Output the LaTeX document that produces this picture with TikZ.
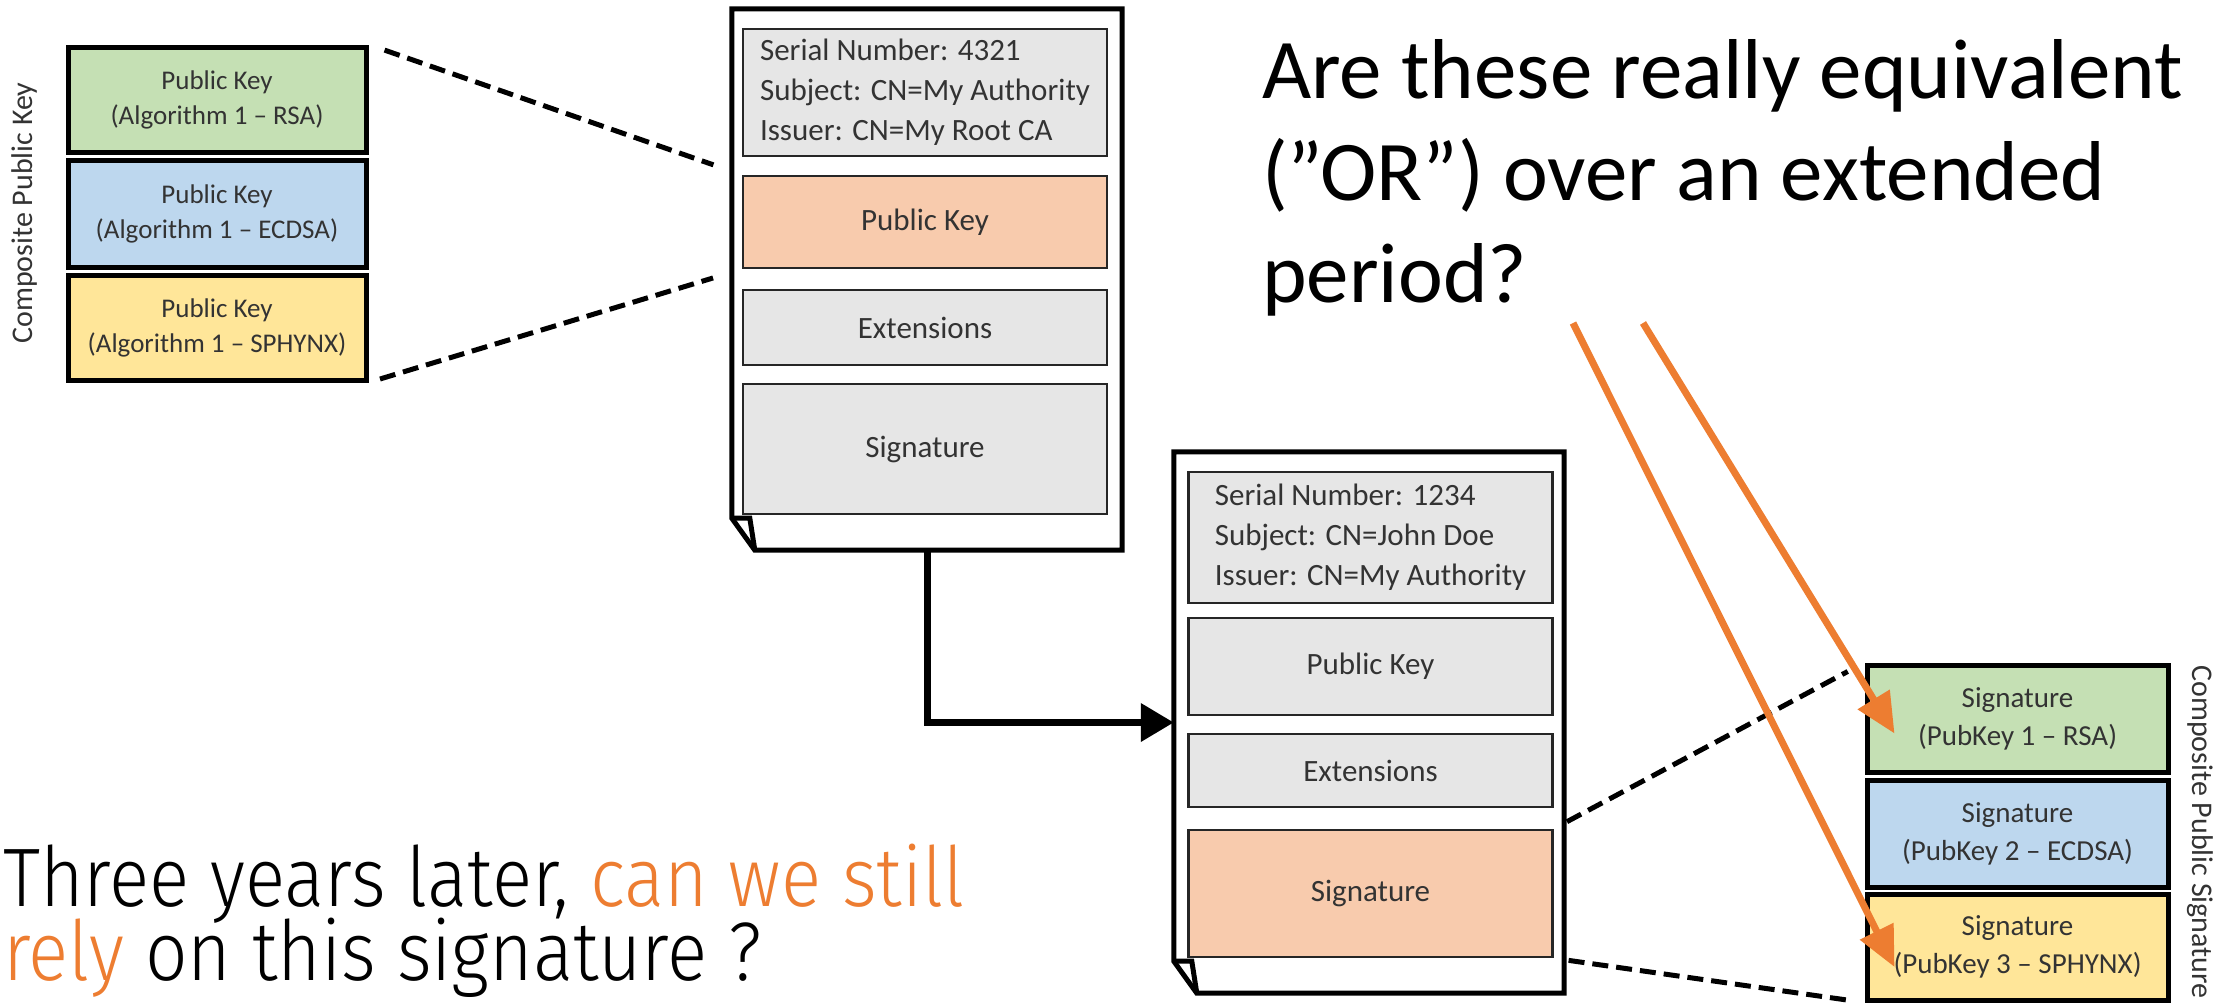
\documentclass[tikz,border=0pt]{standalone}
\usepackage{fontspec}
\setmainfont{Carlito}
\newfontfamily\thinfont{Fira Sans Light}[FakeStretch=0.9]
\usetikzlibrary{arrows.meta,calc}

\definecolor{keygreen}{HTML}{C5E0B4}
\definecolor{keyblue}{HTML}{BDD7EE}
\definecolor{keyyellow}{HTML}{FFE699}
\definecolor{peach}{HTML}{F8CBAD}
\definecolor{certgray}{HTML}{E6E6E6}
\definecolor{accent}{HTML}{ED7D31}

% let big lines sit closer than their height
\newcommand{\tightlines}{\lineskiplimit=-100pt\relax}

\tikzset{
    % parts of a composite key or signature
    part/.style = {draw, line width=5pt, minimum width=298pt, inner sep=0pt, text=black!80, align=center},
    % fields inside a certificate
    field/.style = {draw=black!85, line width=2.5pt, fill=certgray, minimum width=364pt, inner sep=0pt, text=black!80, font=\fontsize{31}{40}\selectfont},
    % invisible frame of a certificate sheet
    sheet/.style = {minimum width=390pt, minimum height=541pt, inner sep=0pt},
    sheetline/.style = {line width=5pt, line join=miter},
    % dashed links between a field and its parts
    link/.style = {line width=5pt, dash pattern=on 16pt off 8pt},
    % issuer to subject
    chain/.style = {line width=7pt, -{Triangle[length=33pt, width=37pt]}},
    % orange question arrows
    pointer/.style = {draw=accent, line width=7pt, -{Triangle[length=40pt, width=36pt]}},
    sidelabel/.style = {text=black!80, font=\fontsize{30}{34}\selectfont, inner sep=0pt}
}

% outline of a certificate sheet with a folded corner
\newcommand{\sheetoutline}[1]{%
    \draw[sheetline, fill=white] (#1.north west) -- (#1.north east) -- (#1.south east)
        -- ([xshift=23pt]#1.south west) -- ([yshift=32pt]#1.south west) -- cycle;
    \draw[sheetline] ([yshift=32pt]#1.south west) -- ([xshift=18pt, yshift=32pt]#1.south west)
        -- ([xshift=23pt]#1.south west);
}

\begin{document}
\begin{tikzpicture}[x=1pt, y=-1pt]
    \useasboundingbox (0,0) rectangle (2225,1002);

    % composite public key
    \node[part, fill=keygreen, minimum height=105pt, font=\fontsize{27}{35}\selectfont] (pk1) at (217,99.5) {Public Key\\(Algorithm 1 – RSA)};
    \node[part, fill=keyblue, minimum height=107pt, font=\fontsize{27}{35}\selectfont] (pk2) at (217,213.5) {Public Key\\(Algorithm 1 – ECDSA)};
    \node[part, fill=keyyellow, minimum height=105pt, font=\fontsize{27}{35}\selectfont] (pk3) at (217,327.5) {Public Key\\(Algorithm 1 – SPHYNX)};
    \node[sidelabel, rotate=90] (pklabel) at (25,213) {Composite Public Key};

    % issuing certificate
    \node[sheet] (cert1) at (927,279.5) {};
    \sheetoutline{cert1}
    \node[field, minimum height=127pt, align=left] (head1) at (925,92.5) {Serial Number: 4321\\Subject: CN=My Authority\\Issuer: CN=My Root CA};
    \node[field, fill=peach, minimum height=92pt] (key1) at (925,222) {Public Key};
    \node[field, minimum height=75pt] (ext1) at (925,327.5) {Extensions};
    \node[field, minimum height=130pt] (sig1) at (925,449) {Signature};

    % end entity certificate
    \node[sheet] (cert2) at (1369,722.5) {};
    \sheetoutline{cert2}
    \node[field, minimum height=131pt, align=left] (head2) at (1370.5,537.5) {Serial Number: 1234\\Subject: CN=John Doe\\Issuer: CN=My Authority};
    \node[field, minimum height=97pt] (key2) at (1370.5,666.5) {Public Key};
    \node[field, minimum height=73pt] (ext2) at (1370.5,770.5) {Extensions};
    \node[field, fill=peach, minimum height=127pt] (sig2) at (1370.5,893.5) {Signature};

    \draw[chain] (cert1.south) |- (cert2.west);

    % composite public signature
    \node[part, fill=keygreen, minimum width=301pt, minimum height=107pt, font=\fontsize{29}{38}\selectfont] (sg1) at (2017.5,718.5) {Signature\\(PubKey 1 – RSA)};
    \node[part, fill=keyblue, minimum width=301pt, minimum height=107pt, font=\fontsize{29}{38}\selectfont] (sg2) at (2017.5,833.5) {Signature\\(PubKey 2 – ECDSA)};
    \node[part, fill=keyyellow, minimum width=301pt, minimum height=106pt, font=\fontsize{29}{38}\selectfont] (sg3) at (2017.5,947) {Signature\\(PubKey 3 – SPHYNX)};
    \node[sidelabel, rotate=-90] (sglabel) at (2200,832) {Composite Public Signature};

    % dashed links
    \draw[link, shorten <=17pt, shorten >=30pt] (pk1.north east) -- (key1.north west);
    \draw[link, shorten <=12pt, shorten >=30pt] (pk3.south east) -- (key1.south west);
    \draw[link, shorten <=15pt, shorten >=19pt] (sig2.north east) -- (sg1.north west);
    \draw[link, shorten <=15pt, shorten >=15pt] (sig2.south east) -- (sg3.south west);

    % questions
    \node[anchor=base west, align=left, inner sep=0pt, font=\fontsize{85}{102}\selectfont] (doubt) at (1262,302) {Are these really equivalent\\(”OR”) over an extended\\period?};
    \node[anchor=base west, align=left, inner sep=0pt, font=\thinfont\fontsize{83}{74}\selectfont\tightlines] (trust) at (3,980) {Three years later, \textcolor{accent}{can we still}\\\textcolor{accent}{rely} on this signature ?};

    \coordinate (q1) at (1643,323);
    \coordinate (q2) at (1573,323);
    \draw[pointer] (q1) -- ($(sg1.west)+(30,15)$);
    \draw[pointer] (q2) -- ($(sg3.west)+(30,20)$);
\end{tikzpicture}
\end{document}
